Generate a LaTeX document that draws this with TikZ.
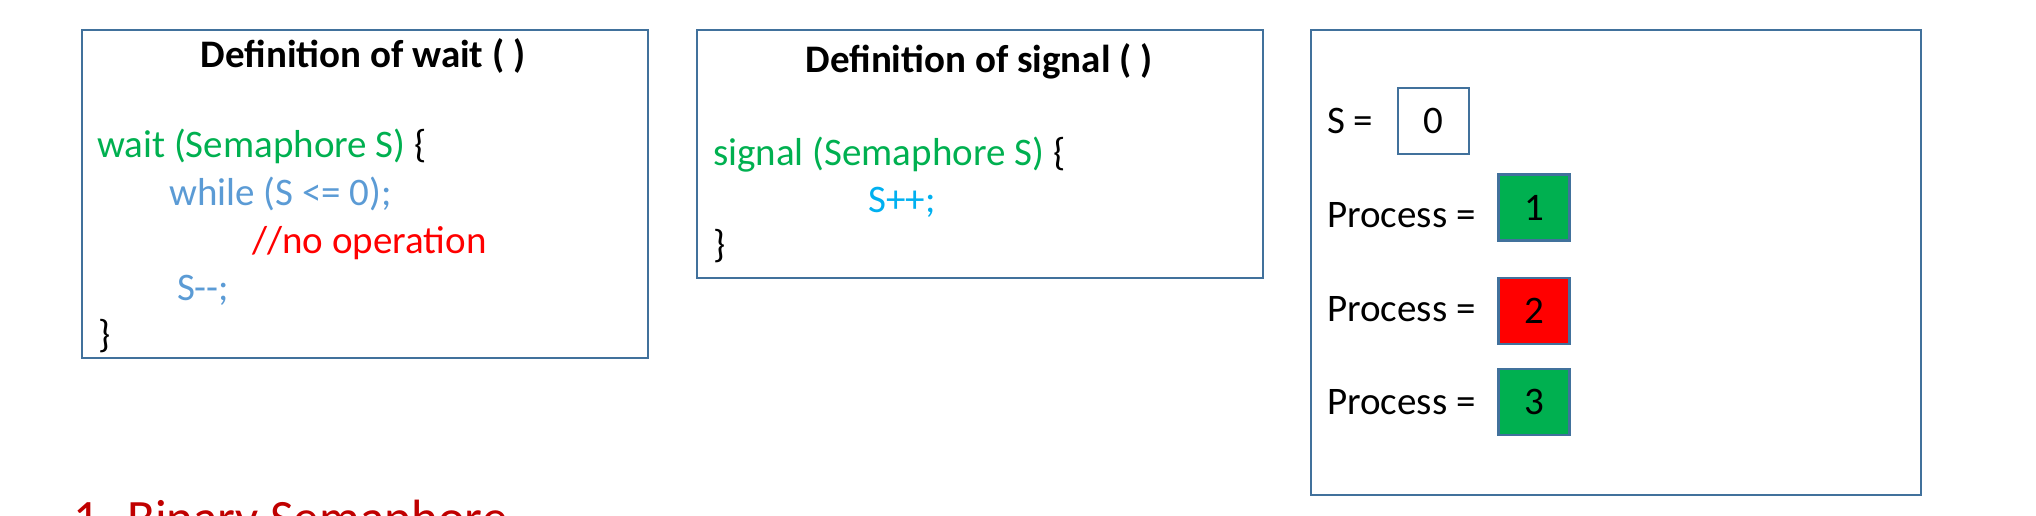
\documentclass[tikz,border=0pt]{standalone}
\usepackage{fontspec}
\setmainfont{Carlito}
\usetikzlibrary{positioning}
\definecolor{frame}{RGB}{65,113,156}
\definecolor{codegreen}{RGB}{0,176,80}
\definecolor{codeblue}{RGB}{91,155,213}
\definecolor{codecyan}{RGB}{0,176,240}
\definecolor{opred}{RGB}{255,0,0}
\definecolor{headred}{RGB}{192,0,0}
\tikzset{
  panel/.style={draw=frame, line width=2.2pt, anchor=north west, inner sep=0pt},
  title/.style={anchor=base, inner sep=0pt, font=\fontsize{39}{47}\selectfont\bfseries},
  code/.style={anchor=base west, inner sep=0pt, font=\fontsize{39}{47}\selectfont},
  cell/.style={draw=frame, line width=2.2pt, minimum width=71pt, minimum height=66pt,
               inner sep=0pt, font=\fontsize{39}{47}\selectfont},
}

\begin{document}
\begin{tikzpicture}[x=1pt, y=-1pt]
  \useasboundingbox (0,0) rectangle (2036,515);
  \clip (0,0) rectangle (2036,515);

  %% the three frames
  \node[panel, minimum width=566pt, minimum height=328pt] (waitdef) at (80.5,28.6) {};
  \node[panel, minimum width=566pt, minimum height=248pt] (signaldef) at (696,28.6) {};
  \node[panel, minimum width=610pt, minimum height=465pt] (state) at (1310,28.6) {};

  %% wait ( )
  \node[title] (waittitle) at (363,67) {Definition of wait ( )};
  \node[code, text=codegreen] (w1) at (97,157) {wait (Semaphore S) \textcolor{black}{\{}};
  \node[code, text=codeblue] (w2) at (169,205) {while (S <= 0);};
  \node[code, text=opred] (w3) at (252,253) {//no operation};
  \node[code, text=codeblue] (w4) at (177,300) {S-\kern0pt-;};
  \node[code] (w5) at (98,347) {\}};

  %% signal ( )
  \node[title] (signaltitle) at (979,72) {Definition of signal ( )};
  \node[code, text=codegreen] (s1) at (713,165) {signal (Semaphore S) \textcolor{black}{\{}};
  \node[code, text=codecyan] (s2) at (868,212) {S++;};
  \node[code] (s3) at (713,257) {\}};

  %% semaphore value and processes
  \node[code] (slabel) at (1327,133) {S =};
  \node[cell, fill=white] (sval) at (1433.5,121) {0};
  \foreach \i/\y/\c/\m in {1/227/codegreen/207.5, 2/321/opred/311, 3/414/codegreen/402} {
    \node[code] (plabel\i) at (1327,\y) {Process =};
    \node[cell, fill=\c] (pval\i) at (1534,\m) {\i};
  }

  %% heading cut off by the page edge
  \node[code, text=headred, font=\fontsize{51}{61}\selectfont] (heading) at (73,535) {1. Binary Semaphore};
\end{tikzpicture}
\end{document}
